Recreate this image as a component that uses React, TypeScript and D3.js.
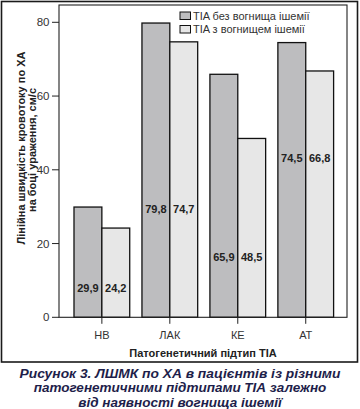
import React from "react";
import * as d3 from "d3";

const categories = ["НВ", "ЛАК", "КЕ", "АТ"];
const seriesNames = ["TIA без вогнища ішемії", "TIA з вогнищем ішемії"];
const withoutFocus = [29.9, 79.8, 65.9, 74.5];
const withFocus = [24.2, 74.7, 48.5, 66.8];
const labelLevel = [7.9, 29.4, 16.4, 43.2];
const yTicks = [0, 20, 40, 60, 80];
const captionLines = [
  "Рисунок 3. ЛШМК по ХА в пацієнтів із різними",
  "патогенетичними підтипами ТІА залежно",
  "від наявності вогнища ішемії",
];

const W = 360;
const H = 409;
const FONT = "'Liberation Sans', Arial, sans-serif";
const COLORS = ["#bdbdbf", "#e7e7e7"];

export default function App() {
  const plot = { left: 59, right: 347, top: 5, bottom: 317.3 };
  const y = d3.scaleLinear().domain([0, 80]).range([317.3, 22.3]);
  const x = d3
    .scaleBand<string>()
    .domain(categories)
    .range([67.2, 340.4])
    .paddingInner(0.18)
    .paddingOuter(0.1);
  const xs = d3.scaleBand<number>().domain([0, 1]).range([0, x.bandwidth()]);
  const series = [withoutFocus, withFocus];
  const fmt = (v: number) => v.toFixed(1).replace(".", ",");

  return (
    <div style={{ position: "absolute", left: 0, top: 0 }}>
      <svg width={W} height={H} style={{ display: "block", fontFamily: FONT }}>
        <rect x={0} y={0} width={W} height={H} fill="#fff" />
        {/* outer frame */}
        <rect x={1.5} y={1.5} width={356} height={360.5} fill="none" stroke="#1a1a1a" strokeWidth={1.6} />
        {/* bars */}
        {categories.map((c, i) =>
          series.map((s, j) => (
            <rect
              key={c + j}
              x={(x(c) as number) + (xs(j) as number)}
              y={y(s[i])}
              width={xs.bandwidth()}
              height={y(0) - y(s[i])}
              fill={COLORS[j]}
              stroke="#111"
              strokeWidth={1.3}
            />
          ))
        )}
        {/* value labels */}
        {categories.map((c, i) =>
          series.map((s, j) => (
            <text
              key={"l" + c + j}
              x={(x(c) as number) + (xs(j) as number) + xs.bandwidth() / 2}
              y={y(labelLevel[i])}
              dy="0.35em"
              textAnchor="middle"
              fontSize={11}
              fontWeight="bold"
              fill="#222"
            >
              {fmt(s[i])}
            </text>
          ))
        )}
        {/* plot box */}
        <rect
          x={plot.left}
          y={plot.top}
          width={plot.right - plot.left}
          height={plot.bottom - plot.top}
          fill="none"
          stroke="#222"
          strokeWidth={1.1}
        />
        {/* y ticks */}
        {yTicks.map((t) => (
          <g key={"y" + t}>
            <line x1={52} x2={plot.left} y1={y(t)} y2={y(t)} stroke="#222" strokeWidth={1} />
            <text x={49.5} y={y(t)} dy="0.35em" textAnchor="end" fontSize={11.5} fill="#333">
              {t}
            </text>
          </g>
        ))}
        {/* x ticks */}
        {categories.map((c) => {
          const cx = (x(c) as number) + x.bandwidth() / 2;
          return (
            <g key={"x" + c}>
              <line x1={cx} x2={cx} y1={plot.bottom} y2={plot.bottom + 6.5} stroke="#222" strokeWidth={1} />
              <text x={cx} y={339} textAnchor="middle" fontSize={11} fill="#333">
                {c}
              </text>
            </g>
          );
        })}
        {/* x axis title */}
        <text x={203} y={357} textAnchor="middle" fontSize={11} fontWeight="bold" fill="#222">
          Патогенетичний підтип ТІА
        </text>
        {/* y axis title */}
        <text
          transform="translate(24.5,148) rotate(-90)"
          textAnchor="middle"
          fontSize={11}
          fontWeight="bold"
          fill="#222"
        >
          Лінійна швидкість кровотоку по ХА
        </text>
        <text
          transform="translate(35.5,150) rotate(-90)"
          textAnchor="middle"
          fontSize={11}
          fontWeight="bold"
          fill="#222"
        >
          на боці ураження, см/с
        </text>
        {/* legend */}
        {seriesNames.map((n, j) => (
          <g key={"lg" + j} transform={`translate(180,${12 + j * 13.5})`}>
            <rect x={0} y={0} width={10.5} height={7.5} fill={COLORS[j]} stroke="#111" strokeWidth={1} />
            <text x={13} y={4} dy="0.35em" fontSize={11} fill="#333">
              {n}
            </text>
          </g>
        ))}
        {/* caption */}
        {captionLines.map((l, i) => (
          <text
            key={"c" + i}
            x={180}
            y={378 + i * 14.4}
            textAnchor="middle"
            fontSize={13.5}
            fontWeight="bold"
            fontStyle="italic"
            fill="#1e1e4a"
            textLength={i === 0 ? 321 : undefined}
            lengthAdjust="spacingAndGlyphs"
          >
            {l}
          </text>
        ))}
      </svg>
    </div>
  );
}
